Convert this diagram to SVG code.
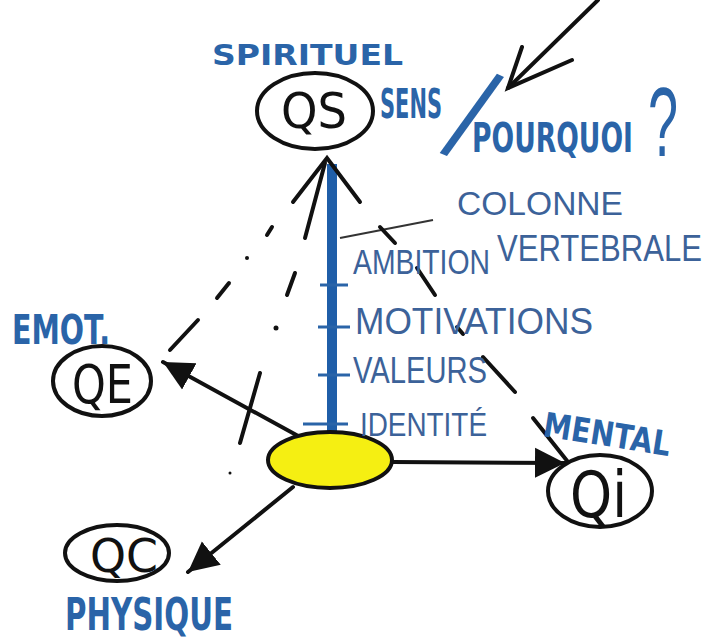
<svg xmlns="http://www.w3.org/2000/svg" width="713" height="641" viewBox="0 0 713 641">
<style>
.node{fill:#fff;stroke:#111;stroke-width:4}
.core{fill:#f5ef12;stroke:#111;stroke-width:4}
.ntxt{font-family:"DejaVu Sans",sans-serif;fill:#111}
.lbl{font-family:"DejaVu Sans",sans-serif;font-weight:bold;fill:#2a64a8}
.thin{font-family:"Liberation Sans",sans-serif;fill:#2a64a8}
.hand{font-family:"Liberation Sans",sans-serif;fill:#3c6299}
.con{stroke:#111;stroke-width:4;fill:none;stroke-linecap:round}
.spine{stroke:#1f5ea8;stroke-width:10;fill:none}
.tick{stroke:#2a64a8;stroke-width:3}
</style>
<defs>
<marker id="ah" viewBox="0 0 10 10" refX="10" refY="5" markerUnits="userSpaceOnUse" markerWidth="30" markerHeight="32" orient="auto"><path d="M0,0 L10,5 L0,10 z" fill="#111"/></marker>
</defs>
<rect width="713" height="641" fill="#fff"/>

<g id="connectors">
  <line class="spine" x1="332" y1="164" x2="332" y2="468"/>
  <polygon points="322,464 344,464 333,478" fill="#1f5ea8"/>
  <line class="tick" x1="320" y1="285" x2="348" y2="285"/>
  <line class="tick" x1="318" y1="327" x2="350" y2="327"/>
  <line class="tick" x1="318" y1="375" x2="350" y2="375"/>
  <line class="tick" x1="303" y1="424" x2="348" y2="424" stroke="#555"/>
  <line x1="340" y1="238" x2="433" y2="220" stroke="#333" stroke-width="2"/>
  <polyline class="con" points="293,202 327,158 360,202"/>
  <line class="con" x1="267" y1="235" x2="272" y2="227"/>
  <circle cx="247" cy="258" r="2" fill="#111"/>
  <line class="con" x1="217" y1="298" x2="229" y2="283"/>
  <line class="con" x1="170" y1="350" x2="198" y2="320"/>
  <line class="con" x1="305" y1="238" x2="325" y2="163"/>
  <line class="con" x1="287" y1="295" x2="295" y2="273"/>
  <circle cx="276" cy="328" r="2.5" fill="#111"/>
  <line class="con" x1="240" y1="443" x2="260" y2="373"/>
  <circle cx="230" cy="473" r="1.5" fill="#111"/>
  <line class="con" x1="380" y1="227" x2="395" y2="243"/>
  <line class="con" x1="417" y1="268" x2="435" y2="295"/>
  <line class="con" x1="457" y1="327" x2="463" y2="334"/>
  <line class="con" x1="483" y1="357" x2="515" y2="392"/>
  <line class="con" x1="533" y1="418" x2="568" y2="462"/>
  <line class="con" x1="300" y1="437" x2="163" y2="362" marker-end="url(#ah)"/>
  <line class="con" x1="393" y1="462" x2="565" y2="463" marker-end="url(#ah)"/>
  <line class="con" x1="293" y1="487" x2="188" y2="572" marker-end="url(#ah)"/>
  <line class="con" x1="598" y1="0" x2="508" y2="88"/>
  <polyline class="con" points="522,47 508,88 572,60"/>
</g>

<g id="core">
  <ellipse class="core" cx="330" cy="460" rx="62" ry="28"/>
</g>

<g id="qs">
  <ellipse class="node" cx="315" cy="111" rx="58" ry="38"/>
  <text class="ntxt" x="281" y="128" font-size="50" textLength="66" lengthAdjust="spacingAndGlyphs">QS</text>
</g>
<g id="qe">
  <ellipse class="node" cx="102" cy="381" rx="49" ry="35"/>
  <text class="ntxt" x="72" y="403" font-size="54" textLength="61" lengthAdjust="spacingAndGlyphs">QE</text>
</g>
<g id="qi">
  <ellipse class="node" cx="600" cy="491" rx="52" ry="36"/>
  <text class="ntxt" x="570" y="517" font-size="64" textLength="57" lengthAdjust="spacingAndGlyphs">Qi</text>
</g>
<g id="qc">
  <ellipse class="node" cx="117" cy="553" rx="52" ry="28"/>
  <text class="ntxt" x="90" y="572" font-size="46" textLength="68" lengthAdjust="spacingAndGlyphs">QC</text>
</g>

<g id="labels">
  <text class="lbl" x="212" y="65" font-size="28" textLength="191" lengthAdjust="spacingAndGlyphs">SPIRITUEL</text>
  <text class="lbl" x="380" y="118" font-size="40" textLength="62" lengthAdjust="spacingAndGlyphs">SENS</text>
  <text class="thin" x="-2" y="-2" font-size="100" transform="translate(441,155) rotate(24) scale(1,1.3)">/</text>
  <text class="lbl" x="0" y="0" font-size="27" textLength="161" lengthAdjust="spacingAndGlyphs" transform="translate(472,152) scale(1,1.5)">POURQUOI</text>
  <text class="thin" x="648" y="156" font-size="98" textLength="30" lengthAdjust="spacingAndGlyphs">?</text>
  <text class="hand" x="457" y="215" font-size="34" textLength="166" lengthAdjust="spacingAndGlyphs">COLONNE</text>
  <text class="hand" x="0" y="0" font-size="31" textLength="205" lengthAdjust="spacingAndGlyphs" transform="translate(497,261) scale(1,1.18)">VERTEBRALE</text>
  <text class="hand" x="0" y="0" font-size="29" textLength="137" lengthAdjust="spacingAndGlyphs" transform="translate(353,274) scale(1,1.22)">AMBITION</text>
  <text class="hand" x="355" y="334" font-size="36" textLength="238" lengthAdjust="spacingAndGlyphs">MOTIVATIONS</text>
  <text class="hand" x="353" y="383" font-size="36" textLength="134" lengthAdjust="spacingAndGlyphs">VALEURS</text>
  <text class="hand" x="360" y="436" font-size="34" textLength="127" lengthAdjust="spacingAndGlyphs">IDENTITÉ</text>
  <text class="lbl" x="12" y="344" font-size="40" textLength="98" lengthAdjust="spacingAndGlyphs">EMOT.</text>
  <text class="lbl" x="543" y="436" font-size="34" textLength="128" lengthAdjust="spacingAndGlyphs" transform="rotate(9 543 430)">MENTAL</text>
  <text class="lbl" x="65" y="630" font-size="44" textLength="168" lengthAdjust="spacingAndGlyphs">PHYSIQUE</text>
</g>
</svg>
